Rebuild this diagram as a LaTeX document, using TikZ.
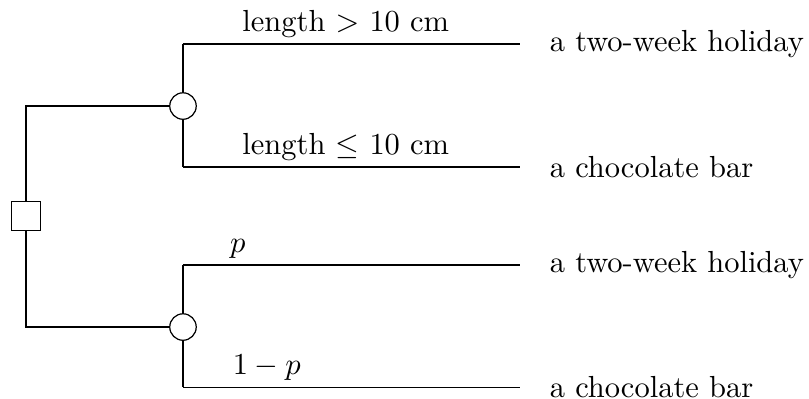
\documentclass[tikz,border=0pt]{standalone}
\usepackage{amsmath,amssymb}
\usepackage{tikz}
\usetikzlibrary{shapes, positioning, calc}

\begin{document}
\begin{tikzpicture}[
    decision/.style={draw, rectangle, fill=white, minimum size=0.335cm, inner sep=0pt},
    chance/.style={draw, circle, fill=white, minimum size=0.305cm, inner sep=0pt},
    lab/.style={above, inner sep=2pt},
    prize/.style={anchor=west, inner sep=3.33pt}]
    \useasboundingbox (0,0) rectangle (9.324,4.587);
    % corners and free ends of the branches
    \foreach \i/\y in {1/4.080, 2/2.662, 3/1.533, 4/0.125} {
        \coordinate (k\i) at (2.109,\y);
        \coordinate (e\i) at (5.993,\y);
    }
    \draw (k1) -- (k2);
    \draw (k3) -- (k4);
    \node[decision] (d) at (0.300,2.098) {};
    \node[chance] (c1) at (2.109,3.365) {};
    \node[chance] (c2) at (2.109,0.818) {};
    \draw (d.north) |- (c1.west);
    \draw (d.south) |- (c2.west);
    \draw (k1) -- node[lab, pos=0.483] {length $>$ 10 cm} (e1);
    \draw (k2) -- node[lab, pos=0.483] {length $\leq$ 10 cm} (e2);
    \draw (k3) -- node[lab, pos=0.163] {$p$} (e3);
    \draw (k4) -- node[lab, pos=0.249] {$1-p$} (e4);
    \foreach \i/\txt in {1/a two-week holiday, 2/a chocolate bar, 3/a two-week holiday, 4/a chocolate bar} {
        \node[prize, right=0.22cm of e\i] (p\i) {\txt};
    }
\end{tikzpicture}
\end{document}
